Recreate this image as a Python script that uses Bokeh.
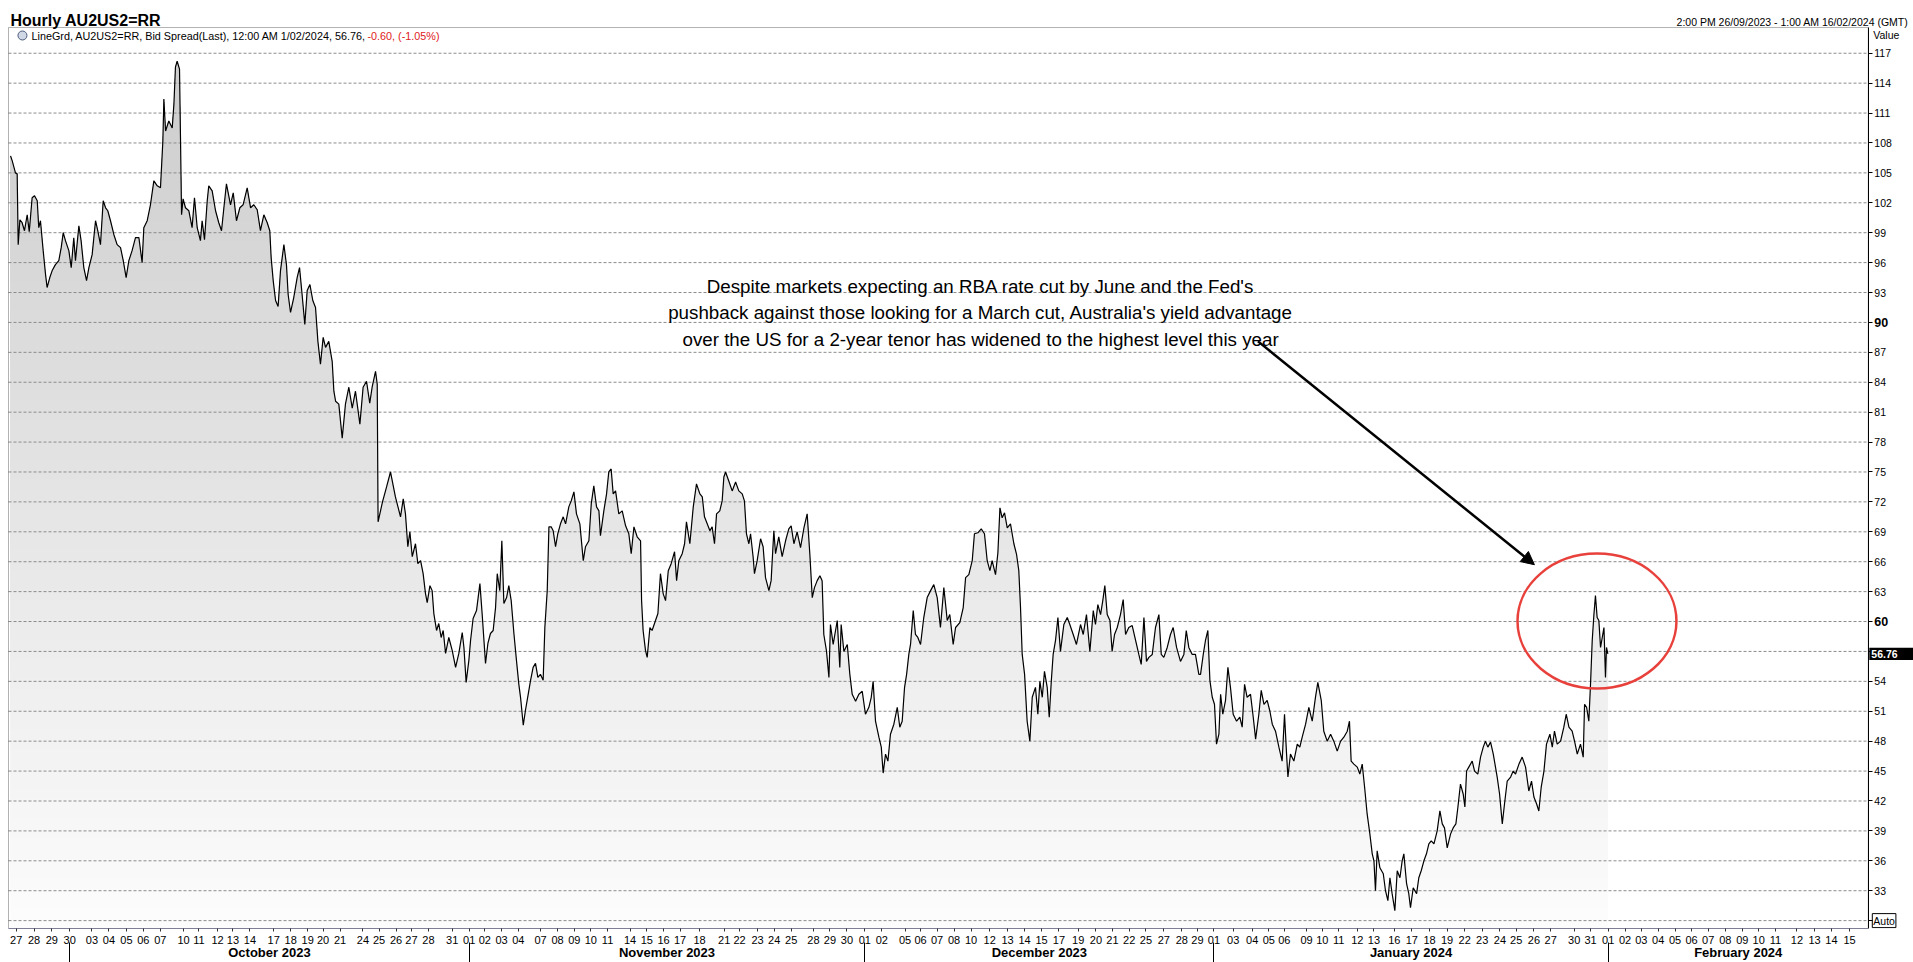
import numpy as np
from bokeh.plotting import figure
from bokeh.models import Range1d, FixedTicker, LinearAxis, Label, Arrow, NormalHead, BoxAnnotation
from bokeh.embed import file_html
from bokeh.resources import INLINE
from bokeh.core.properties import value

# ---------------- data (trading-session time, spread in bp) ----------------
t = [0.12, 0.22, 0.41, 0.51, 0.57, 0.67, 0.80, 0.94, 1.10, 1.22, 1.39, 1.53, 1.69, 1.78, 1.88,
     2.04, 2.18, 2.27, 2.43, 2.57, 2.76, 2.96, 3.10, 3.22, 3.35, 3.55, 3.69, 3.84, 3.94, 4.14,
     4.27, 4.43, 4.59, 4.73, 4.92, 5.12, 5.25, 5.41, 5.57, 5.71, 5.84, 6.00, 6.20, 6.39, 6.59,
     6.75, 6.92, 7.08, 7.27, 7.47, 7.67, 7.86, 7.96, 8.16, 8.35, 8.55, 8.75, 8.94, 9.08, 9.14,
     9.24, 9.43, 9.63, 9.73, 9.82, 9.92, 10.06, 10.12, 10.18, 10.27, 10.41, 10.61, 10.80, 10.94,
     11.10, 11.29, 11.39, 11.53, 11.69, 11.78, 11.98, 12.18, 12.37, 12.53, 12.67, 12.82, 13.06,
     13.22, 13.41, 13.61, 13.80, 14.04, 14.24, 14.43, 14.63, 14.82, 15.02, 15.22, 15.37, 15.45,
     15.57, 15.71, 15.86, 16.00, 16.20, 16.35, 16.45, 16.59, 16.78, 16.98, 17.12, 17.27, 17.43,
     17.57, 17.73, 17.90, 18.06, 18.20, 18.35, 18.51, 18.65, 18.84, 19.04, 19.14, 19.24, 19.43,
     19.63, 19.82, 20.02, 20.22, 20.41, 20.67, 20.86, 21.06, 21.25, 21.39, 21.59, 21.69,
     21.74, 22.00, 22.24, 22.47, 22.76,
     23.06, 23.22, 23.35, 23.49, 23.61, 23.75, 23.94, 24.08, 24.24, 24.39, 24.53, 24.63, 24.79,
     24.92, 25.02, 25.18, 25.31, 25.45, 25.57, 25.71, 25.90, 26.10, 26.30, 26.49, 26.69, 26.79,
     26.92, 27.08, 27.18, 27.33, 27.53, 27.73, 27.86, 28.06, 28.20, 28.35, 28.51, 28.65, 28.75,
     28.90, 29.02, 29.14, 29.30, 29.43, 29.57, 29.73, 29.88, 30.02, 30.12, 30.28, 30.41, 30.57,
     30.71, 30.86, 31.00, 31.14, 31.29, 31.45, 31.55, 31.69, 31.79, 31.92, 32.04, 32.18, 32.31,
     32.47, 32.63, 32.77, 32.96, 33.10, 33.26, 33.41, 33.61, 33.81, 33.94, 34.14, 34.28, 34.43,
     34.59, 34.73, 34.82, 35.02, 35.18, 35.31, 35.45, 35.57, 35.71, 35.90, 36.10, 36.30, 36.49,
     36.63, 36.79, 36.98, 37.18, 37.24, 37.33, 37.47, 37.57, 37.73, 37.86, 38.06, 38.20, 38.35,
     38.51, 38.65, 38.81, 38.98, 39.18, 39.30, 39.43, 39.63, 39.77, 39.88, 40.08, 40.28, 40.47,
     40.67, 40.81, 40.94, 41.10, 41.26, 41.39, 41.53, 41.65, 41.84, 41.98, 42.08, 42.18, 42.37,
     42.57, 42.77, 42.96, 43.16, 43.29, 43.41, 43.55, 43.65, 43.80, 43.88, 44.04, 44.24, 44.39,
     44.53, 44.73, 44.86, 45.02, 45.12, 45.31, 45.51, 45.71, 45.90, 46.04, 46.20, 46.39,
     46.59, 46.79, 46.98, 47.14, 47.28, 47.41, 47.57, 47.73, 47.86, 47.96, 48.12, 48.26, 48.35,
     48.51, 48.65, 48.75, 48.90, 48.98, 49.14, 49.34, 49.49, 49.63, 49.83, 50.02, 50.22, 50.41,
     50.61, 50.75, 50.86, 51.00, 51.20, 51.34, 51.45, 51.59, 51.73, 51.88, 52.08, 52.28, 52.43,
     52.57, 52.71, 52.83, 52.96, 53.06, 53.22, 53.35, 53.49, 53.65, 53.84, 54.04, 54.24, 54.43,
     54.63, 54.82, 55.02, 55.22, 55.37, 55.57, 55.71, 55.96, 56.16, 56.30, 56.49, 56.69, 56.82,
     57.02, 57.22, 57.41, 57.57, 57.73, 57.86, 58.06, 58.20, 58.32, 58.45, 58.59, 58.75, 58.94,
     59.14, 59.30, 59.43, 59.53, 59.63, 59.77, 59.92, 60.08, 60.22, 60.41, 60.55, 60.67, 60.81,
     60.94, 61.10, 61.22, 61.34, 61.45, 61.59, 61.73, 61.88, 62.08, 62.28, 62.43, 62.63, 62.82,
     63.06, 63.22, 63.41, 63.61, 63.81, 63.94, 64.08, 64.24, 64.37, 64.49, 64.63, 64.79, 64.92,
     65.06, 65.22, 65.41, 65.57, 65.71, 65.90, 66.10, 66.30, 66.49, 66.63, 66.79, 66.94, 67.08,
     67.28, 67.47, 67.67, 67.81, 67.96, 68.16, 68.35, 68.51, 68.71, 68.94, 69.14, 69.28, 69.43,
     69.63, 69.82, 70.02,
     70.12, 70.28, 70.41, 70.55, 70.67, 70.81, 70.94, 71.06, 71.20, 71.30, 71.43, 71.59, 71.73,
     71.88, 72.04, 72.24, 72.43, 72.57, 72.71, 72.86, 73.06, 73.22, 73.36, 73.55, 73.69, 73.85,
     74.04, 74.20, 74.34, 74.53, 74.73, 74.92, 75.06, 75.18, 75.26, 75.41, 75.61, 75.81, 75.96,
     76.10, 76.30, 76.49, 76.69, 76.88, 77.02, 77.22, 77.37, 77.57, 77.77, 77.96, 78.16, 78.36,
     78.55, 78.75, 78.88, 78.98, 79.14, 79.34, 79.49, 79.63, 79.77, 79.92, 80.08, 80.22, 80.32,
     80.41, 80.51, 80.67, 80.87, 81.00, 81.14, 81.26, 81.39, 81.55, 81.69, 81.85, 81.98, 82.08,
     82.24, 82.37, 82.47, 82.63, 82.83, 82.96, 83.10, 83.26, 83.41, 83.55, 83.69, 83.85, 84.04,
     84.20, 84.34, 84.47, 84.63, 84.83, 84.98, 85.14, 85.26, 85.41, 85.57, 85.67, 85.77, 85.90,
     86.10, 86.24, 86.43, 86.59, 86.75, 86.88, 87.02, 87.18, 87.34, 87.47, 87.57, 87.71, 87.87,
     88.00, 88.16, 88.36, 88.51, 88.65, 88.85, 89.04, 89.24, 89.43, 89.59, 89.73, 89.89, 90.02,
     90.16, 90.32, 90.47, 90.67, 90.81, 90.94, 91.10, 91.30, 91.49, 91.63, 91.79, 91.98, 92.12,
     92.28, 92.47, 92.63, 92.71, 92.83, 92.96, 93.06, 93.16, 93.26, 93.35, 93.45, 93.55, 93.65,
     93.75, 93.85, 93.94, 94.00, 94.08]

v = [106.7, 106.2, 105.0, 104.9, 97.8, 100.3, 100.0, 99.2, 100.8, 99.1, 102.5, 102.7, 102.2, 99.5, 100.2,
     97.2, 94.8, 93.5, 94.5, 95.2, 95.8, 96.2, 97.5, 99.0, 98.2, 97.2, 95.5, 98.5, 96.2, 99.7,
     98.2, 95.5, 94.2, 95.5, 96.8, 100.2, 99.2, 97.8, 102.2, 101.5, 101.2, 100.2, 98.8, 97.8, 97.5,
     96.2, 94.5, 96.2, 97.2, 98.5, 98.5, 96.0, 99.5, 100.2, 101.8, 104.2, 103.7, 103.5, 108.2, 112.4,
     109.2, 110.2, 109.5, 111.9, 115.6, 116.2, 115.4, 108.2, 100.8, 102.4, 101.5, 101.2, 99.5, 102.5,
     99.5, 98.2, 100.2, 98.3, 102.2, 103.7, 103.2, 101.2, 100.0, 99.2, 101.5, 103.9, 101.8,
     103.0, 100.2, 101.5, 101.8, 103.5, 101.5, 101.8, 101.3, 99.2, 100.8, 100.0, 99.2, 96.5,
     94.2, 92.2, 91.6, 95.2, 97.8, 95.8, 92.8, 91.0, 92.5, 94.5, 95.5, 92.8, 89.8,
     93.2, 93.8, 92.2, 91.5, 88.1, 85.8, 88.5, 87.5, 88.1, 86.1, 83.1, 82.1, 81.8,
     78.4, 81.8, 83.5, 81.4, 83.1, 79.8, 83.5, 84.1, 81.9, 83.5, 85.1, 83.8,
     70.0, 72.0, 73.5, 75.0, 72.5,
     70.5, 72.3, 70.8, 67.5, 69.0, 66.5, 67.8, 65.8, 66.1, 64.8, 62.8, 61.9, 63.6,
     63.1, 60.8, 59.1, 59.8, 58.4, 59.1, 56.8, 58.4, 57.1, 55.4, 56.8, 58.9, 57.4,
     53.9, 56.1, 58.1, 60.3, 61.1, 63.8, 60.8, 55.8, 57.8, 58.8, 59.1, 61.4, 64.8,
     63.1, 68.1, 61.8, 62.4, 63.6, 62.1, 58.8, 56.1, 53.7, 52.4, 49.6, 51.1, 52.7,
     54.1, 55.4, 55.8, 54.4, 54.7, 54.1, 59.4, 63.1, 69.5, 69.5, 69.1, 67.5, 68.8,
     69.8, 70.5, 69.8, 71.5, 72.1, 73.0, 70.8, 69.8, 66.1, 67.5, 68.1, 71.8, 73.6,
     71.5, 71.1, 68.6, 71.1, 72.8, 75.0, 75.3, 72.8, 73.1, 70.8, 71.1, 69.6, 68.8,
     66.8, 69.5, 68.5, 68.1, 62.1, 59.1, 57.1, 56.4, 59.4, 59.1, 60.1, 60.8, 64.8,
     62.8, 62.1, 65.1, 65.8, 67.0, 64.1, 66.1, 66.8, 67.8, 70.0, 67.8, 71.5, 73.8,
     72.8, 72.5, 70.5, 69.8, 69.1, 69.5, 67.8, 70.8, 71.1, 72.1, 74.5, 75.0, 74.1,
     73.1, 74.0, 73.1, 72.8, 72.1, 68.8, 67.8, 68.8, 66.5, 64.8, 66.1, 68.3, 67.5,
     64.4, 63.1, 64.1, 69.1, 66.8, 68.5, 66.5, 68.1, 69.3, 69.6, 67.8, 69.0,
     67.4, 69.4, 70.8, 66.7, 62.4, 63.4, 64.1, 64.6, 64.1, 58.7, 57.0, 54.4, 59.7,
     57.7, 59.1, 60.1, 55.4, 59.7, 57.0, 57.7, 54.7, 52.7, 52.0, 52.7, 53.0, 50.7,
     51.4, 52.4, 54.0, 50.0, 48.4, 47.4, 44.8, 46.7, 46.0, 48.7, 49.7, 51.4, 49.4,
     50.0, 53.4, 54.7, 56.7, 57.7, 61.1, 58.7, 58.4, 57.7, 60.4, 62.4, 63.1, 63.7,
     62.4, 59.4, 63.4, 60.1, 60.7, 57.7, 59.4, 59.9, 61.4, 64.4, 64.7, 66.1, 68.8,
     68.9, 69.3, 68.8, 66.1, 65.1, 66.1, 64.7, 66.9, 71.4, 70.4, 70.9, 69.4, 69.8,
     67.8, 66.7, 65.1, 61.4, 56.7, 54.7, 50.0, 48.0, 52.4, 53.4, 50.7, 54.0, 52.4,
     55.0, 53.4, 50.4, 54.0, 56.7, 58.1, 60.4, 57.0, 59.7, 60.4, 59.7, 58.7, 57.7,
     59.7, 58.7, 60.7, 57.0, 61.1, 59.7, 61.7, 60.7, 62.1, 63.6, 60.7, 60.1, 57.0,
     58.7, 59.4, 60.7, 62.2, 58.7, 59.4, 59.6, 58.1, 56.7, 55.7, 60.4, 56.0, 56.4,
     56.7, 59.4, 60.7, 56.7, 56.4, 57.4, 58.7, 59.4, 57.4, 56.0, 56.7, 59.1, 57.4,
     56.7, 56.7, 54.7,
     54.7, 56.7, 58.1, 59.1, 54.1, 52.4, 51.7, 47.7, 48.7, 52.7, 50.7, 52.1, 55.4,
     53.4, 50.7, 50.0, 50.4, 49.4, 53.7, 52.4, 52.7, 50.4, 48.2, 50.7, 53.1, 51.7,
     52.1, 51.0, 49.7, 49.0, 47.4, 46.0, 50.7, 46.7, 44.4, 46.7, 46.0, 47.7, 47.4,
     48.4, 49.7, 51.4, 50.0, 52.4, 53.9, 52.1, 49.0, 48.0, 48.7, 48.0, 47.0, 48.0,
     48.4, 49.0, 50.0, 46.0, 45.7, 45.4, 44.7, 45.7, 43.4, 40.7, 38.7, 36.7, 36.0,
     33.0, 37.0, 35.3, 34.7, 33.0, 32.0, 34.3, 32.7, 31.0, 35.0, 34.3, 36.0, 36.7,
     33.7, 32.7, 31.3, 33.3, 32.7, 34.3, 35.0, 36.0, 36.7, 37.7, 38.0, 37.7, 39.0,
     41.0, 39.7, 39.3, 37.3, 38.7, 39.3, 39.7, 41.4, 43.7, 42.7, 41.4, 45.0, 45.4,
     46.0, 45.0, 44.7, 46.4, 47.4, 48.0, 47.4, 47.9, 46.7, 45.4, 44.4, 42.7, 39.7,
     41.7, 44.0, 44.4, 45.0, 44.7, 45.7, 46.4, 45.4, 43.0, 44.0, 42.4, 41.7, 41.0,
     43.4, 45.0, 47.7, 48.7, 47.4, 49.0, 47.7, 48.0, 49.4, 50.7, 49.4, 49.0, 48.0,
     46.7, 47.7, 46.4, 51.7, 51.4, 50.0, 53.7, 58.1, 60.7, 62.6, 60.4, 60.1, 57.4,
     58.4, 59.4, 54.4, 57.4, 56.76]

day_labels = ["27", "28", "29", "30",
              "03", "04", "05", "06", "07", "10", "11", "12", "13", "14", "17", "18", "19", "20", "21",
              "24", "25", "26", "27", "28", "31",
              "01", "02", "03", "04", "07", "08", "09", "10", "11", "14", "15", "16", "17", "18", "21",
              "22", "23", "24", "25", "28", "29", "30",
              "01", "02", "05", "06", "07", "08", "10", "12", "13", "14", "15", "17", "19", "20", "21",
              "22", "25", "27", "28", "29",
              "01", "03", "04", "05", "06", "09", "10", "11", "12", "13", "16", "17", "18", "19", "22",
              "23", "24", "25", "26", "27", "30", "31",
              "01", "02", "03", "04", "05", "06", "07", "08", "09", "10", "11", "12", "13", "14", "15"]
day_pos = [0.45, 1.5, 2.55, 3.6,
           4.91, 5.91, 6.94, 7.93, 8.93, 10.3, 11.2, 12.3, 13.2, 14.2, 15.6, 16.6, 17.6, 18.5, 19.5,
           20.85, 21.8, 22.8, 23.7, 24.7, 26.1,
           27.1, 28.02, 29.0, 29.99, 31.3, 32.3, 33.28, 34.25, 35.24, 36.56, 37.55, 38.53, 39.5, 40.65,
           42.1, 43.0, 44.06, 45.04, 46.04, 47.35, 48.32, 49.32,
           50.37, 51.37, 52.74, 53.65, 54.62, 55.62, 56.62, 57.72, 58.77, 59.77, 60.77, 61.79, 62.92,
           63.97, 64.94, 65.92, 66.91, 67.96, 69.02, 69.94,
           70.91, 72.04, 73.16, 74.14, 75.05, 76.36, 77.28, 78.25, 79.34, 80.32, 81.52, 82.55, 83.59,
           84.62, 85.66, 86.69, 87.73, 88.69, 89.73, 90.72, 92.1, 93.06,
           94.1, 95.09, 96.05, 97.04, 98.03, 99.0, 99.98, 100.99, 101.99, 102.95, 103.94, 105.2,
           106.24, 107.23, 108.3]
month_names = ["October 2023", "November 2023", "December 2023", "January 2024", "February 2024"]
month_starts = [3.6, 27.1, 50.37, 70.91, 94.1]
y_ticks = list(range(30, 118, 3))
y_bold = [90, 60]

last_value = 56.76
auto_level = 30.0
title_text = "Hourly AU2US2=RR"
range_text = "2:00 PM 26/09/2023 - 1:00 AM 16/02/2024 (GMT)"
legend_black = "LineGrd, AU2US2=RR, Bid Spread(Last), 12:00 AM 1/02/2024, 56.76, "
legend_red = "-0.60, (-1.05%)"
note = ("Despite markets expecting an RBA rate cut by June and the Fed's\n"
        "pushback against those looking for a March cut, Australia's yield advantage\n"
        "over the US for a 2-year tenor has widened to the highest level this year")

# ---------------- geometry of the chart window (data units) ----------------
X_AXIS = 109.4                     # right edge of plot box (value axis)
X_LO, X_HI = -8 / 17, 1905 / 17    # full canvas width
Y_LO = 29.21                       # bottom of plot box
Y_BOX = 119.58                     # top of plot box
Y_HI = 122.29                      # top of canvas
FONT = "Liberation Sans"

p = figure(width=1913, height=962, output_backend="svg", toolbar_location=None,
           x_range=Range1d(X_LO, X_HI), y_range=Range1d(Y_LO, Y_HI),
           y_axis_location="left", min_border_left=0, min_border_right=0,
           min_border_top=0, min_border_bottom=34,
           background_fill_color="white", border_fill_color="white",
           outline_line_color=None)

ta = np.array(t)
va = np.array(v)

# gradient fill under the line (layered, darker towards the top)
levels = np.arange(Y_LO, 117.5, 1.0)
for lo in levels:
    g = int(round(252 - (lo + 0.5 - 30) * 0.55))
    g = max(min(g, 253), 200)
    p.varea(x=ta, y1=np.minimum(va, lo), y2=va, fill_color=(g, g, g),
            fill_alpha=1.0, level="image")

# dashed value grid inside the plot box
p.xgrid.visible = False
p.ygrid.visible = False
p.segment(x0=[0] * len(y_ticks), x1=[X_AXIS] * len(y_ticks), y0=y_ticks, y1=y_ticks,
          line_color="#8c8c8c", line_dash="3 2", line_width=1, level="underlay")

p.line(ta, va, line_color="black", line_width=1.2, level="glyph")

# plot box
p.add_layout(BoxAnnotation(left=0, right=X_AXIS, bottom=Y_LO, top=Y_BOX, fill_color=None,
                           line_color="black", line_width=1, level="underlay"))

# value axis (drawn at the right edge of the plot box)
ya = p.yaxis[0]
ya.fixed_location = X_AXIS
ya.bounds = (Y_LO, Y_BOX)
ya.ticker = FixedTicker(ticks=y_ticks)
ya.major_label_overrides = {yt: "" for yt in y_ticks}
ya.major_label_standoff = 0
ya.axis_line_color = "black"
ya.major_tick_line_color = "black"
ya.major_tick_in = 4
ya.major_tick_out = 0
ya.minor_tick_line_color = None

y_norm = [yt for yt in y_ticks if yt not in y_bold and abs(yt - last_value) > 1 and yt > 31]
p.text(x=[X_AXIS] * len(y_norm), y=y_norm, text=[str(yt) for yt in y_norm], x_offset=6,
       text_baseline="middle", text_align="left", text_font=value(FONT),
       text_font_size="10.5px", text_color="black", level="overlay")
p.text(x=[X_AXIS] * len(y_bold), y=y_bold, text=[str(yt) for yt in y_bold], x_offset=6,
       text_baseline="middle", text_align="left", text_font=value(FONT),
       text_font_size="12.5px", text_font_style="bold", text_color="black", level="overlay")

# last value marker on the value axis
p.quad(left=[X_AXIS + 0.06], right=[X_HI], bottom=[last_value - 0.62], top=[last_value + 0.62],
       fill_color="black", line_color=None, level="overlay")
p.text(x=[X_AXIS], y=[last_value], text=[f"{last_value:.2f}"], x_offset=3, text_baseline="middle",
       text_font=value(FONT), text_font_size="10.5px", text_font_style="bold",
       text_color="white", level="overlay")

# bottom day axis
xa = p.xaxis[0]
xa.bounds = (0, X_AXIS)
xa.ticker = FixedTicker(ticks=day_pos)
xa.major_label_overrides = {pos: lab for pos, lab in zip(day_pos, day_labels)}
xa.axis_line_color = "#7d7d96"
xa.major_tick_line_color = "#333333"
xa.major_tick_in = 0
xa.major_tick_out = 3
xa.minor_tick_line_color = None
xa.major_label_standoff = 4
xa.major_label_text_font = FONT
xa.major_label_text_font_size = "11px"
xa.major_label_text_color = "black"

# month axis (separators drawn with negative tick lengths so they don't enlarge the panel)
bounds = month_starts + [X_AXIS]
centers = [(a + b) / 2 for a, b in zip(bounds[:-1], bounds[1:])]
ma = LinearAxis(ticker=FixedTicker(ticks=centers, minor_ticks=month_starts),
                major_label_overrides={c: n for c, n in zip(centers, month_names)},
                axis_line_color=None, major_tick_line_color=None,
                major_tick_in=0, major_tick_out=0,
                minor_tick_in=-19, minor_tick_out=-4, minor_tick_line_color="black",
                major_label_standoff=-2, major_label_text_font=FONT,
                major_label_text_font_size="13px", major_label_text_font_style="bold",
                major_label_text_color="black")
p.add_layout(ma, "below")

# header texts and side labels
p.add_layout(Label(x=0, y=Y_BOX, x_offset=2, y_offset=7, text=title_text,
                   text_baseline="alphabetic", text_font=FONT, text_font_size="16px",
                   text_font_style="bold", text_color="black"))
p.add_layout(Label(x=X_AXIS, y=Y_BOX, x_offset=40, y_offset=6, text=range_text, text_align="right",
                   text_baseline="alphabetic", text_font=FONT, text_font_size="10.5px",
                   text_color="black"))
p.scatter(x=[0.82], y=[Y_BOX - 0.8], size=9, marker="circle", fill_color="#cfd8e4",
          line_color="#4a5a7a", line_width=1, level="overlay")
p.add_layout(Label(x=0, y=Y_BOX, x_offset=23, y_offset=-8, text=legend_black, text_baseline="middle",
                   text_font=FONT, text_font_size="10.8px", text_color="black"))
p.add_layout(Label(x=0, y=Y_BOX, x_offset=359, y_offset=-8, text=legend_red, text_baseline="middle",
                   text_font=FONT, text_font_size="10.8px", text_color="#e02020"))
p.add_layout(Label(x=X_AXIS, y=Y_BOX, x_offset=5, y_offset=-7, text="Value", text_baseline="middle",
                   text_font=FONT, text_font_size="10.5px", text_color="black"))
p.add_layout(Label(x=X_AXIS, y=auto_level, x_offset=4, text="Auto", text_baseline="middle",
                   text_font=FONT, text_font_size="10.5px", text_color="black",
                   border_line_color="black", border_line_width=1, padding=1))

# annotation
p.text(x=[57.18], y=[90.95], text=[note], text_align="center", text_baseline="middle",
       text_font=value(FONT), text_font_size="18.75px", text_color="black", text_line_height=1.25,
       level="overlay")
p.add_layout(Arrow(end=NormalHead(size=13, fill_color="black", line_color="black"),
                   x_start=73.5, y_start=88.1, x_end=89.76, y_end=65.7,
                   line_color="black", line_width=2.5))
p.ellipse(x=[93.44], y=[60.05], width=9.35, height=13.54, fill_alpha=0,
          line_color="#e8413c", line_width=2.5, level="overlay")

open("out.html", "w").write(file_html(p, INLINE))
